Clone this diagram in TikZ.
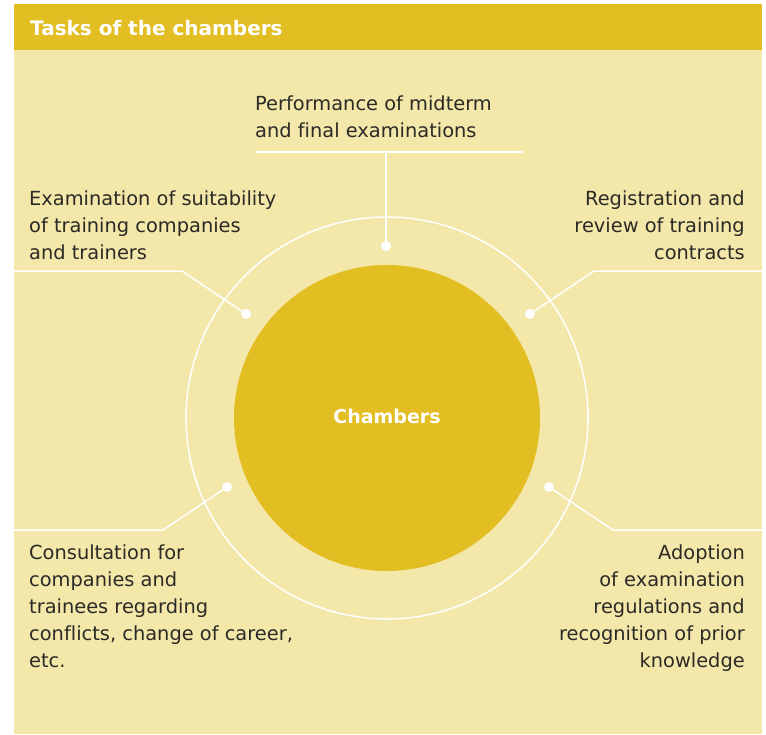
\documentclass[tikz,border=0pt]{standalone}
\usepackage{fontspec}
\setmainfont{DejaVu Sans}[Ligatures=CommonOff]
\definecolor{gold}{HTML}{E3BE23}
\definecolor{pale}{HTML}{F3E7AA}
\definecolor{ink}{HTML}{2B2A26}
\newcommand{\ltab}[1]{\begin{tabular}[t]{@{}l@{}}#1\end{tabular}}
\newcommand{\rtab}[1]{\begin{tabular}[t]{@{}r@{}}#1\end{tabular}}
\begin{document}
\begin{tikzpicture}[x=1pt,y=-1pt,
  dotnode/.style={circle,fill=white,inner sep=0,minimum size=10pt},
  wire/.style={draw=white,line width=1.5pt},
  lbl/.style={inner sep=0,text=ink,font=\fontsize{19.4}{27}\selectfont}]
\useasboundingbox (0,0) rectangle (766,734);
\fill[pale] (14,4) rectangle (762,734);
\fill[gold] (14,4) rectangle (762,50);
\node[anchor=base west,inner sep=0,text=white,font=\bfseries\fontsize{20}{24}\selectfont] (title) at (30,35) {Tasks of the chambers};
% rings
\draw[wire] (387,418) circle (201);
\node[circle,fill=gold,minimum size=306pt,inner sep=0] (core) at (387,418) {};
\node[anchor=base,inner sep=0,text=white,font=\bfseries\fontsize{19}{24}\selectfont] (corelbl) at (387,423) {Chambers};
% dots
\node[dotnode] (d1) at (386,246) {};
\node[dotnode] (d2) at (246,314) {};
\node[dotnode] (d3) at (530,314) {};
\node[dotnode] (d4) at (227,487) {};
\node[dotnode] (d5) at (549,487) {};
% connector points
\coordinate (e1) at (386,152);
\coordinate (h1a) at (255,152);
\coordinate (h1b) at (523,152);
\coordinate (e2) at (182,271);
\coordinate (f2) at (14,271);
\coordinate (e3) at (594,271);
\coordinate (f3) at (762,271);
\coordinate (e4) at (163,530);
\coordinate (f4) at (14,530);
\coordinate (e5) at (613,530);
\coordinate (f5) at (762,530);
\draw[wire] (d1.center) -- (e1);
\draw[wire] (h1a) -- (h1b);
\draw[wire] (d2.center) -- (e2) -- (f2);
\draw[wire] (d3.center) -- (e3) -- (f3);
\draw[wire] (d4.center) -- (e4) -- (f4);
\draw[wire] (d5.center) -- (e5) -- (f5);
% labels
\node[lbl,anchor=base west] (t1) at (255,110) {\ltab{Performance of midterm\\and final examinations}};
\node[lbl,anchor=base west] (t2) at (29,205) {\ltab{Examination of suitability\\of training companies\\and trainers}};
\node[lbl,anchor=base east] (t3) at (745,205) {\rtab{Registration and\\review of training\\contracts}};
\node[lbl,anchor=base west] (t4) at (29,559) {\ltab{Consultation for\\companies and\\trainees regarding\\conflicts, change of career,\\etc.}};
\node[lbl,anchor=base east] (t5) at (745,559) {\rtab{Adoption\\of examination\\regulations and\\recognition of prior\\knowledge}};
\end{tikzpicture}
\end{document}
